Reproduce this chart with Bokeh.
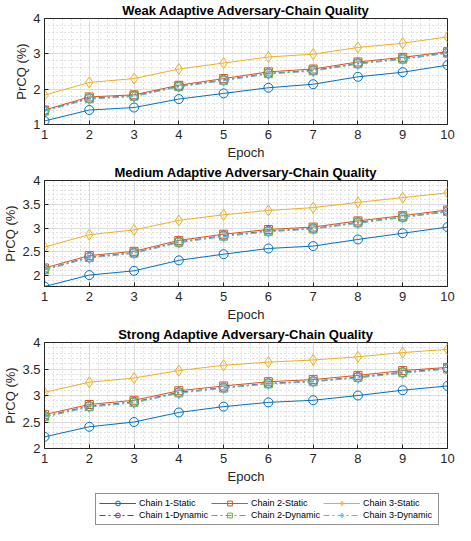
from bokeh.plotting import figure
from bokeh.layouts import column
from bokeh.models import FixedTicker, NumeralTickFormatter, Range1d, Legend, LegendItem
from bokeh.embed import file_html
from bokeh.resources import INLINE

epochs = [1, 2, 3, 4, 5, 6, 7, 8, 9, 10]
series_names = ["Chain 1-Static", "Chain 2-Static", "Chain 3-Static",
                "Chain 1-Dynamic", "Chain 2-Dynamic", "Chain 3-Dynamic"]
titles = ["Weak Adaptive Adversary-Chain Quality",
          "Medium Adaptive Adversary-Chain Quality",
          "Strong Adaptive Adversary-Chain Quality"]

weak_c1_static = [1.10, 1.41, 1.48, 1.72, 1.88, 2.04, 2.14, 2.35, 2.48, 2.68]
weak_c2_static = [1.41, 1.78, 1.84, 2.11, 2.30, 2.49, 2.57, 2.77, 2.90, 3.06]
weak_c3_static = [1.83, 2.19, 2.30, 2.57, 2.74, 2.91, 2.99, 3.18, 3.30, 3.48]
weak_c1_dynamic = [1.39, 1.74, 1.81, 2.08, 2.26, 2.45, 2.53, 2.73, 2.86, 3.03]
weak_c2_dynamic = [1.38, 1.73, 1.80, 2.07, 2.25, 2.44, 2.52, 2.72, 2.85, 3.02]
weak_c3_dynamic = [1.38, 1.72, 1.79, 2.07, 2.24, 2.43, 2.51, 2.71, 2.85, 3.02]

medium_c1_static = [1.77, 2.01, 2.10, 2.32, 2.45, 2.57, 2.62, 2.76, 2.89, 3.02]
medium_c2_static = [2.16, 2.42, 2.51, 2.74, 2.87, 2.97, 3.02, 3.15, 3.26, 3.38]
medium_c3_static = [2.60, 2.86, 2.96, 3.16, 3.28, 3.37, 3.43, 3.54, 3.64, 3.74]
medium_c1_dynamic = [2.13, 2.39, 2.48, 2.71, 2.84, 2.94, 2.99, 3.12, 3.23, 3.35]
medium_c2_dynamic = [2.12, 2.38, 2.47, 2.70, 2.83, 2.93, 2.98, 3.11, 3.23, 3.35]
medium_c3_dynamic = [2.12, 2.37, 2.47, 2.69, 2.82, 2.92, 2.98, 3.10, 3.22, 3.34]

strong_c1_static = [2.22, 2.41, 2.50, 2.68, 2.79, 2.87, 2.91, 3.00, 3.10, 3.18]
strong_c2_static = [2.64, 2.83, 2.91, 3.09, 3.18, 3.26, 3.30, 3.38, 3.47, 3.53]
strong_c3_static = [3.06, 3.25, 3.33, 3.47, 3.57, 3.63, 3.67, 3.73, 3.81, 3.87]
strong_c1_dynamic = [2.61, 2.80, 2.88, 3.06, 3.15, 3.23, 3.27, 3.35, 3.44, 3.51]
strong_c2_dynamic = [2.60, 2.79, 2.87, 3.05, 3.14, 3.22, 3.26, 3.34, 3.43, 3.50]
strong_c3_dynamic = [2.59, 2.78, 2.86, 3.04, 3.14, 3.22, 3.26, 3.33, 3.42, 3.50]

panels = [
    [weak_c1_static, weak_c2_static, weak_c3_static, weak_c1_dynamic, weak_c2_dynamic, weak_c3_dynamic],
    [medium_c1_static, medium_c2_static, medium_c3_static, medium_c1_dynamic, medium_c2_dynamic, medium_c3_dynamic],
    [strong_c1_static, strong_c2_static, strong_c3_static, strong_c1_dynamic, strong_c2_dynamic, strong_c3_dynamic],
]
y_limits = [(1, 4), (1.77, 4), (2, 4)]
y_major = [[1, 2, 3, 4], [2, 2.5, 3, 3.5, 4], [2, 2.5, 3, 3.5, 4]]
y_minor_step = [0.2, 0.1, 0.1]

colors = ["#0072BD", "#D95319", "#EDB120", "#7E2F8E", "#77AC30", "#4DBEEE"]
markers = ["circle", "square", "diamond", "circle", "square", "diamond"]
msizes = [9, 8, 11, 9, 8, 11]
dashes = ["solid", "solid", "solid", "6 3 2 3", "6 3 2 3", "6 3 2 3"]

FONT = "Liberation Sans"
AX = "#262626"

figs = []
for k in range(3):
    p = figure(width=455, height=162, output_backend="svg", toolbar_location=None,
               x_range=Range1d(1, 10), y_range=Range1d(*y_limits[k]),
               min_border_left=42, min_border_right=8, min_border_top=16,
               min_border_bottom=38)
    p.title.text = titles[k]
    p.title.text_font = FONT
    p.title.text_font_size = "13px"
    p.title.text_font_style = "bold"
    p.title.text_color = "#000000"
    p.title.align = "center"
    p.title.standoff = 1
    p.title.offset = 0

    lo, hi = y_limits[k]
    step = y_minor_step[k]
    ymin_ticks = []
    v = int(lo) * 1.0
    while v <= hi + 1e-9:
        if v >= lo - 1e-9 and all(abs(v - t) > 1e-6 for t in y_major[k]):
            ymin_ticks.append(round(v, 3))
        v += step
    xmin_ticks = [round(e + d, 2) for e in epochs[:-1] for d in (0.2, 0.4, 0.6, 0.8)]

    p.xaxis.ticker = FixedTicker(ticks=epochs, minor_ticks=xmin_ticks)
    p.yaxis.ticker = FixedTicker(ticks=y_major[k], minor_ticks=ymin_ticks)
    p.yaxis.formatter = NumeralTickFormatter(format="0.[0]")
    p.xaxis.axis_label = "Epoch"
    p.yaxis.axis_label = "PrCQ (%)"
    for ax in (p.xaxis, p.yaxis):
        ax.axis_label_text_font = FONT
        ax.axis_label_text_font_size = "13px"
        ax.axis_label_text_font_style = "normal"
        ax.axis_label_text_color = AX
        ax.major_label_text_font = FONT
        ax.major_label_text_font_size = "13px"
        ax.major_label_text_color = AX
        ax.axis_line_color = AX
        ax.major_tick_line_color = AX
        ax.major_tick_in = 4
        ax.major_tick_out = 0
        ax.minor_tick_in = 0
        ax.minor_tick_out = 0
    p.xaxis.major_label_standoff = 5
    p.xaxis.axis_label_standoff = 3
    p.yaxis.major_label_standoff = 4
    p.yaxis.axis_label_standoff = 1

    p.outline_line_color = AX
    p.outline_line_alpha = 1
    for g in (p.xgrid, p.ygrid):
        g.grid_line_color = "#dcdcdc"
        g.minor_grid_line_color = "#c4c4c4"
        g.minor_grid_line_dash = "1 3"
    p.background_fill_color = "white"
    p.border_fill_color = "white"

    for i, ys in enumerate(panels[k]):
        p.line(epochs, ys, line_color=colors[i], line_width=1, line_dash=dashes[i])
        p.scatter(epochs, ys, marker=markers[i], size=msizes[i], fill_color=None,
                  line_color=colors[i], line_width=1)
    figs.append(p)

# legend strip: its own small figure holding the legend (series drawn off-view)
lf = figure(width=455, height=39, output_backend="svg", toolbar_location=None,
            x_axis_type=None, y_axis_type=None,
            x_range=Range1d(100, 101), y_range=Range1d(100, 101),
            min_border_left=0, min_border_right=0, min_border_top=0, min_border_bottom=0)
lf.grid.visible = False
lf.outline_line_color = None
lf.background_fill_color = "white"
lf.border_fill_color = "white"
legend_items = []
for i, ys in enumerate(panels[2]):
    ln = lf.line(epochs, ys, line_color=colors[i], line_width=1, line_dash=dashes[i])
    sc = lf.scatter(epochs, ys, marker=markers[i], size=msizes[i], fill_color=None,
                    line_color=colors[i], line_width=1)
    legend_items.append(LegendItem(label=series_names[i], renderers=[ln, sc]))
leg = Legend(items=legend_items, orientation="horizontal", ncols=3,
             location=(51, 0), label_text_font=FONT, label_text_font_size="9px",
             label_text_color="#000000", glyph_width=37, glyph_height=12,
             label_height=12, label_width=72, label_standoff=3, spacing=0, padding=3,
             margin=0, border_line_color=AX, border_line_width=1,
             background_fill_alpha=1)
lf.add_layout(leg, "center")
figs.append(lf)

layout = column(*figs, spacing=0)
open("out.html", "w").write(file_html(layout, INLINE))
